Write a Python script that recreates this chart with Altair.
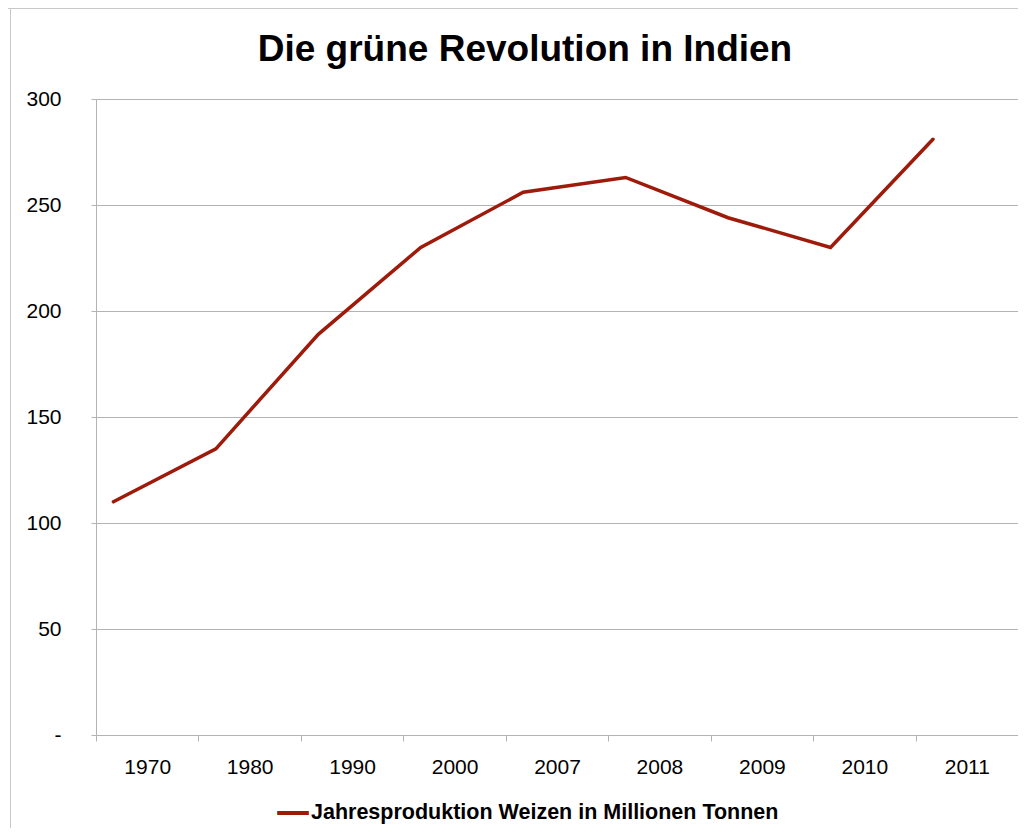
import altair as alt
import pandas as pd

years = ["1970", "1980", "1990", "2000", "2007", "2008", "2009", "2010", "2011"]
values = [110, 135, 189, 230, 256, 263, 244, 230, 281]
series = "Jahresproduktion Weizen in Millionen Tonnen"
title_text = "Die grüne Revolution in Indien"

df = pd.DataFrame({"Jahr": years, "Wert": values, "Serie": [series] * len(years)})

FONT = "Liberation Sans, Arial, Helvetica, sans-serif"
GRID = "#b3b3b3"

line = alt.Chart(df).mark_line(strokeWidth=3.5, strokeCap="round", strokeJoin="miter").encode(
    x=alt.X(
        "Jahr:N",
        sort=years,
        bandPosition=0.17,
        scale=alt.Scale(type="band", paddingInner=0, paddingOuter=0),
        axis=alt.Axis(
            title=None,
            labelAngle=0,
            tickBand="extent",
            domainColor=GRID,
            tickColor=GRID,
            tickSize=6,
            labelPadding=15,
            labelFontSize=21,
            labelFont=FONT,
            labelColor="#000000",
            grid=False,
        ),
    ),
    y=alt.Y(
        "Wert:Q",
        scale=alt.Scale(domain=[0, 300], nice=False),
        axis=alt.Axis(
            title=None,
            values=[0, 50, 100, 150, 200, 250, 300],
            labelExpr="datum.value == 0 ? '-' : datum.label",
            domainColor=GRID,
            tickColor=GRID,
            gridColor=GRID,
            tickSize=5,
            labelPadding=30,
            labelFontSize=21,
            labelFont=FONT,
            labelColor="#000000",
        ),
    ),
    color=alt.Color(
        "Serie:N",
        scale=alt.Scale(range=["#9e1a0a"]),
        legend=alt.Legend(
            title=None,
            orient="none",
            legendX=179,
            legendY=696,
            symbolType="stroke",
            symbolSize=1000,
            symbolStrokeWidth=4,
            labelFont=FONT,
            labelFontSize=21.5,
            labelFontWeight="bold",
            labelColor="#000000",
            labelOffset=0,
            labelLimit=800,
        ),
    ),
)

frame_data = alt.Data(values=[{"k": 1}])
top_edge = alt.Chart(frame_data).mark_rule(color="#c8c8c8", strokeWidth=1).encode(
    x=alt.value(-88), x2=alt.value(922), y=alt.value(-90.5)
)
left_edge = alt.Chart(frame_data).mark_rule(color="#c8c8c8", strokeWidth=1).encode(
    x=alt.value(-85.5), y=alt.value(-91), y2=alt.value(760)
)

chart = alt.layer(top_edge, left_edge, line).properties(
    width=922,
    height=636,
    autosize=alt.AutoSizeParams(type="none"),
    padding={"left": 88, "top": 91, "right": 0, "bottom": 93},
    title=alt.TitleParams(
        title_text,
        font=FONT,
        fontSize=37,
        fontWeight="bold",
        color="#000000",
        anchor="middle",
        frame="group",
        baseline="alphabetic",
        offset=0,
        dx=-32,
        dy=90,
    ),
).configure_view(stroke=None)

chart.save("out.html", embed_options={"renderer": "svg", "actions": False})
